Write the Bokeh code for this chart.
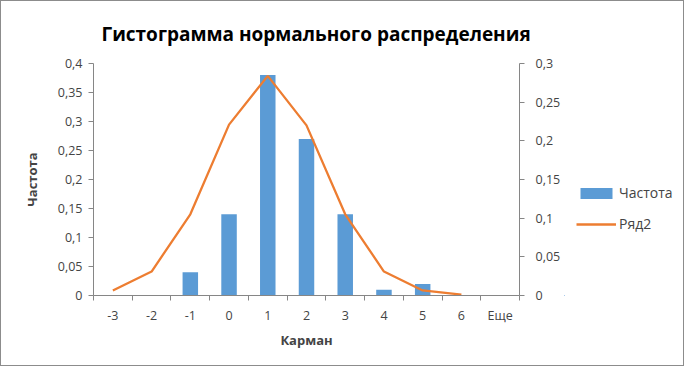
from bokeh.plotting import figure
from bokeh.layouts import row
from bokeh.models import (Range1d, LinearAxis, FixedTicker, CustomJSTickFormatter,
                          Legend, LegendItem, ColumnDataSource)
from bokeh.embed import file_html
from bokeh.resources import INLINE

# ---- data ----
categories = ["-3", "-2", "-1", "0", "1", "2", "3", "4", "5", "6", "Еще"]
freq = [0, 0, 0.04, 0.14, 0.38, 0.27, 0.14, 0.01, 0.02, 0, 0]
series2_cats = ["-3", "-2", "-1", "0", "1", "2", "3", "4", "5", "6"]
series2 = [0.0065, 0.031, 0.105, 0.221, 0.284, 0.22, 0.105, 0.031, 0.0065, 0.001]
left_ticks = [0, 0.05, 0.1, 0.15, 0.2, 0.25, 0.3, 0.35, 0.4]
right_ticks = [0, 0.05, 0.1, 0.15, 0.2, 0.25, 0.3]

title_text = "Гистограмма нормального распределения"
x_label = "Карман"
y_label = "Частота"
legend_labels = ["Частота", "Ряд2"]

BLUE = "#5B9BD5"
ORANGE = "#ED7D31"
AXIS = "#868686"
FONT = "Open Sans"
TICK_SIZE = "12.5px"

pos = {c: i for i, c in enumerate(categories)}
bar_src = ColumnDataSource(dict(x=[pos[c] for c in categories], top=freq))
line_src = ColumnDataSource(dict(x=[pos[c] for c in series2_cats], y=series2))

p = figure(width=563, height=364, output_backend="svg", toolbar_location=None,
           x_range=Range1d(-0.5, len(categories) - 0.5), y_range=Range1d(0, 0.4),
           min_border_left=92, min_border_right=45, min_border_top=62, min_border_bottom=70,
           title=title_text)
p.extra_y_ranges = {"right": Range1d(0, 0.3)}
p.outline_line_color = None
p.xgrid.grid_line_color = None
p.ygrid.grid_line_color = None
p.background_fill_color = "white"
p.border_fill_color = "white"

p.title.text_font = FONT
p.title.text_font_size = "19px"
p.title.text_font_style = "bold"
p.title.text_color = "#000000"
p.title.align = "left"
p.title.offset = 8
p.title.standoff = 33

fmt = CustomJSTickFormatter(code="""
var s = tick.toFixed(2);
s = s.replace(/0+$/, '').replace(/\\.$/, '');
return s.replace('.', ',');
""")

# x axis
xa = p.xaxis[0]
xa.ticker = FixedTicker(ticks=list(range(len(categories))),
                        minor_ticks=[i - 0.5 for i in range(len(categories) + 1)])
xa.major_label_overrides = {i: c for i, c in enumerate(categories)}
xa.major_tick_line_color = None
xa.minor_tick_line_color = AXIS
xa.minor_tick_out = 5
xa.minor_tick_in = 0
xa.axis_line_color = AXIS
xa.major_label_text_font = FONT
xa.major_label_text_font_size = TICK_SIZE
xa.major_label_standoff = 5
xa.axis_label = x_label
xa.axis_label_text_font = FONT
xa.axis_label_text_font_size = "13px"
xa.axis_label_text_font_style = "bold"
xa.axis_label_standoff = 4

# left axis
ya = p.yaxis[0]
ya.ticker = FixedTicker(ticks=left_ticks)
ya.formatter = fmt
ya.minor_tick_line_color = None
ya.major_tick_out = 5
ya.major_tick_in = 0
ya.major_tick_line_color = AXIS
ya.axis_line_color = AXIS
ya.major_label_text_font = FONT
ya.major_label_text_font_size = TICK_SIZE
ya.major_label_standoff = 6
ya.axis_label = y_label
ya.axis_label_text_font = FONT
ya.axis_label_text_font_size = "13px"
ya.axis_label_text_font_style = "bold"
ya.axis_label_standoff = 14

# right axis
ra = LinearAxis(y_range_name="right", ticker=FixedTicker(ticks=right_ticks), formatter=fmt)
ra.minor_tick_line_color = None
ra.major_tick_out = 5
ra.major_tick_in = 0
ra.major_tick_line_color = AXIS
ra.axis_line_color = AXIS
ra.major_label_text_font = FONT
ra.major_label_text_font_size = TICK_SIZE
ra.major_label_standoff = 11
p.add_layout(ra, "right")

bars = p.vbar(x="x", top="top", width=0.4, source=bar_src, color=BLUE, line_color=None)
ln = p.line(x="x", y="y", source=line_src, y_range_name="right", color=ORANGE, line_width=2.3)

# legend panel: a separate figure on the right that only shows the legend
# (its ranges lie away from the data, so only the legend keys are visible)
lp = figure(width=119, height=364, output_backend="svg", toolbar_location=None,
            x_axis_type=None, y_axis_type=None,
            x_range=Range1d(20, 21), y_range=Range1d(2, 3), min_border=0)
lp.outline_line_color = None
lp.xgrid.grid_line_color = None
lp.ygrid.grid_line_color = None
lp.border_fill_color = "white"
lbar = lp.vbar(x="x", top="top", width=0.4, source=bar_src, color=BLUE, line_color=None)
lline = lp.line(x="x", y="y", source=line_src, color=ORANGE, line_width=2.3)

legend = Legend(items=[LegendItem(label=legend_labels[0], renderers=[lbar]),
                       LegendItem(label=legend_labels[1], renderers=[lline])],
                location=(12, 62), orientation="vertical")
legend.border_line_color = None
legend.background_fill_alpha = 0
legend.padding = 0
legend.margin = 0
legend.spacing = 12
legend.glyph_width = 40
legend.glyph_height = 14
legend.label_height = 11
legend.label_standoff = 3
legend.label_text_font = FONT
legend.label_text_font_size = "14px"
legend.label_text_baseline = "middle"
lp.add_layout(legend, "center")

layout = row(p, lp, spacing=0)
layout.styles = {"border": "1px solid #8c8c8c"}
open("out.html", "w").write(file_html(layout, INLINE))
